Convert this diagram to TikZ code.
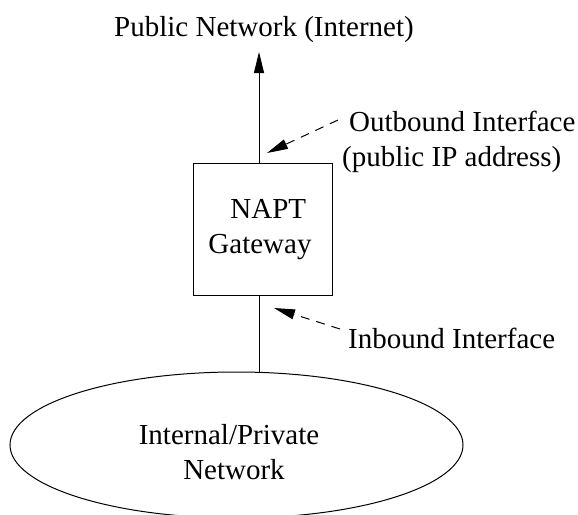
\documentclass[tikz,border=0pt]{standalone}
\usepackage{fontspec}
\setmainfont{Liberation Serif}
\usetikzlibrary{arrows.meta,shapes.geometric}
\begin{document}
\begin{tikzpicture}[x=1pt,y=-1pt,
  every node/.style={font=\fontsize{29}{35}\selectfont, inner sep=0pt},
  line/.style={line width=1pt},
  arr/.style={line, -{Triangle[length=21pt,width=10pt]}},
  darr/.style={arr, dash pattern=on 9pt off 7pt}]
\useasboundingbox (0,0) rectangle (578,514);
% gateway box
\node[draw, line width=1pt, minimum width=139pt, minimum height=132pt] (gw) at (262.5,229) {};
\node[align=left] (gwlbl) at (260,230) {\hspace*{22pt}NAPT\\Gateway};
% network ellipse
\node[draw, ellipse, line width=1pt, minimum width=453pt, minimum height=146pt] (net) at (236.5,445) {};
\node[align=center] (netlbl) at (229,452) {Internal/Private\\\hspace*{10pt}Network};
% labels
\node (pub) at (264,30) {Public Network (Internet)};
\node[align=left, anchor=west] (outl) at (342,142) {\hspace*{7pt}Outbound Interface\\(public IP address)};
\node[anchor=west] (inl) at (348,338) {Inbound Interface};
% coordinates
\coordinate (top) at (259,52);
\coordinate (bot) at (259,373);
\coordinate (otip) at (267,153);
\coordinate (ostart) at (338,120);
\coordinate (itip) at (274,308);
\coordinate (istart) at (340,329);
% connectors
\draw[arr] (gw.north -| top) -- (top);
\draw[line] (gw.south -| bot) -- (net.north -| bot);
\draw[darr] (ostart) -- (otip);
\draw[darr] (istart) -- (itip);
\end{tikzpicture}
\end{document}
